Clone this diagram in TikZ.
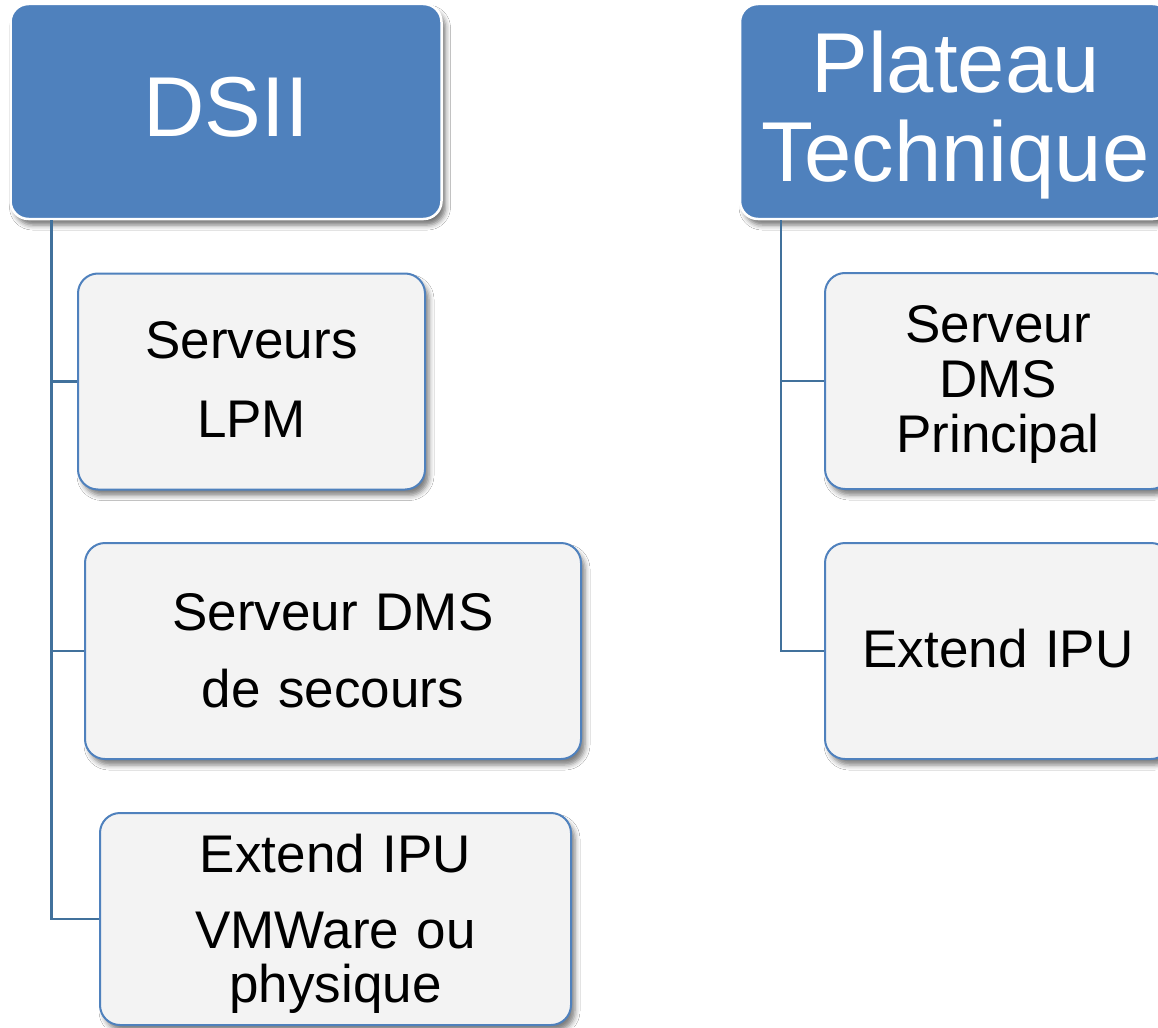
\documentclass[tikz,border=0pt]{standalone}
\usepackage{fontspec}
\setmainfont{Liberation Sans}
\usetikzlibrary{shadows,shadows.blur}
\definecolor{hblue}{HTML}{4F81BD}
\definecolor{lblue}{HTML}{41719C}
\definecolor{cgray}{HTML}{F3F3F3}
\tikzset{
  head/.style={rectangle, rounded corners=18pt, fill=hblue, draw=white, line width=2.5pt,
    text=white, minimum width=431pt, minimum height=215pt, inner sep=0pt, align=center,
    text width=420pt, font=\fontsize{85}{89}\selectfont,
    blur shadow={shadow xshift=4pt, shadow yshift=-6pt, shadow blur radius=5pt, shadow opacity=55}},
  childbox/.style={rectangle, rounded corners=20pt, fill=cgray, draw=hblue, line width=2pt,
    text=black, minimum height=216pt, inner sep=0pt, align=center,
    font=\fontsize{53}{55}\selectfont,
    blur shadow={shadow xshift=4pt, shadow yshift=-6pt, shadow blur radius=5pt, shadow opacity=50}},
  conn/.style={draw=lblue, line width=2.5pt}
}
\begin{document}
\begin{tikzpicture}[x=1pt,y=-1pt]
\useasboundingbox[fill=white] (0,0) rectangle (1158,1027);
% headers
\node[head, text height=51pt, text depth=0pt] (dsii) at (226,111.5) {DSII};
\node[head, text height=0pt, text depth=37pt] (pt) at (955.5,111.5) {Plateau\\Technique};
% left children
\node[childbox, minimum width=347pt, text width=330pt, text height=0pt, text depth=47pt]
  (c1) at (251.5,381.5) {Serveurs\\[24pt]LPM};
\node[childbox, minimum width=496pt, text width=480pt, text height=0pt, text depth=42pt]
  (c2) at (333,651) {Serveur DMS\\[22pt]de secours};
\node[childbox, minimum width=471pt, minimum height=212pt, text width=455pt, text height=0pt, text depth=94pt]
  (c3) at (335.5,919) {Extend IPU\\[21pt]VMWare ou\\[-1pt]physique};
% right children
\node[childbox, minimum width=346pt, text width=330pt, text height=0pt, text depth=78pt]
  (r1) at (998,381) {Serveur\\DMS\\Principal};
\node[childbox, minimum width=346pt, text width=330pt, text height=32pt, text depth=0pt]
  (r2) at (998,651) {Extend IPU};
% connectors
\coordinate (dtop) at ([xshift=42pt]dsii.south west);
\coordinate (ptop) at ([xshift=42pt]pt.south west);
\draw[conn] (dtop) |- (c1.west);
\draw[conn] (dtop) |- (c2.west);
\draw[conn] (dtop) |- (c3.west);
\draw[conn] (ptop) |- (r1.west);
\draw[conn] (ptop) |- (r2.west);
\end{tikzpicture}
\end{document}
